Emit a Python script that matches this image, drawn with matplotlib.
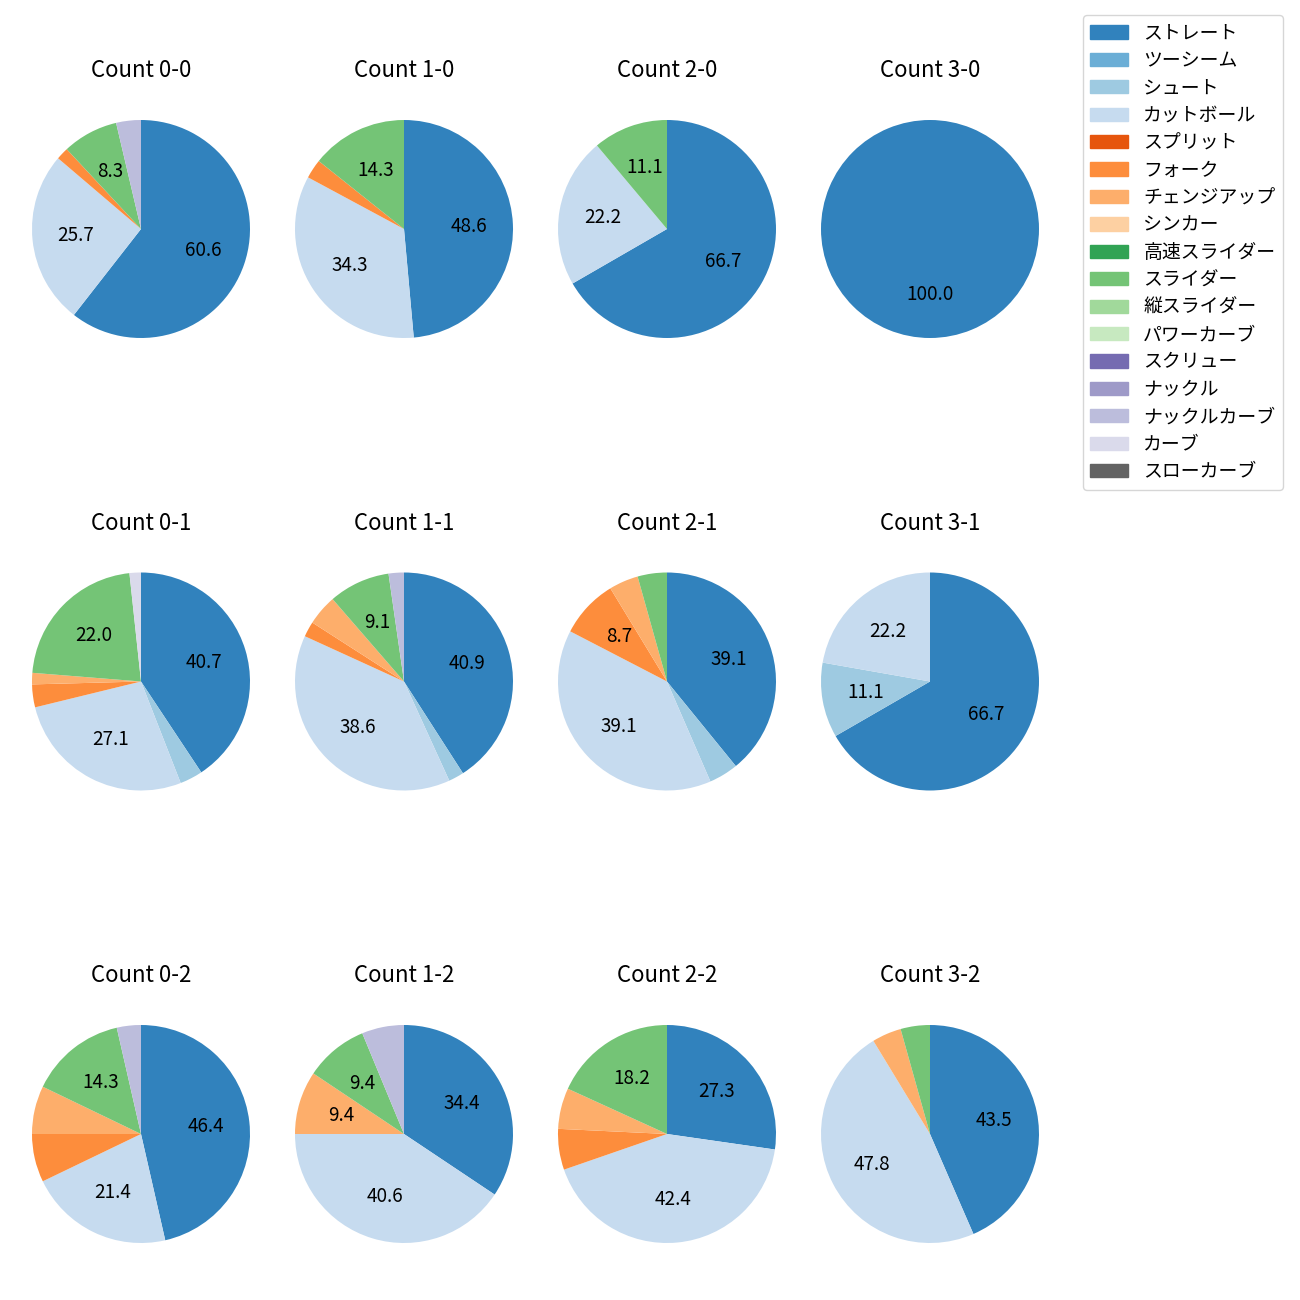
import matplotlib.pyplot as plt
from matplotlib.patches import Patch

plt.rcParams['font.family'] = ['Noto Sans CJK JP', 'DejaVu Sans']
plt.rcParams['font.size'] = 13.6

# pitch types and colours (tab20c order)
pitch_types = ["ストレート", "ツーシーム", "シュート", "カットボール", "スプリット", "フォーク",
               "チェンジアップ", "シンカー", "高速スライダー", "スライダー", "縦スライダー",
               "パワーカーブ", "スクリュー", "ナックル", "ナックルカーブ", "カーブ", "スローカーブ"]
pitch_colors = ["#3182bd", "#6baed6", "#9ecae1", "#c6dbef", "#e6550d", "#fd8d3c",
                "#fdae6b", "#fdd0a2", "#31a354", "#74c476", "#a1d99b",
                "#c7e9c0", "#756bb1", "#9e9ac8", "#bcbddc", "#dadaeb", "#636363"]

# pitch counts per ball-strike count, in pitch_types order
counts = {
    "0-0": [66, 0, 0, 28, 0, 2, 0, 0, 0, 9, 0, 0, 0, 0, 4, 0, 0],
    "1-0": [17, 0, 0, 12, 0, 1, 0, 0, 0, 5, 0, 0, 0, 0, 0, 0, 0],
    "2-0": [6, 0, 0, 2, 0, 0, 0, 0, 0, 1, 0, 0, 0, 0, 0, 0, 0],
    "3-0": [5, 0, 0, 0, 0, 0, 0, 0, 0, 0, 0, 0, 0, 0, 0, 0, 0],
    "0-1": [24, 0, 2, 16, 0, 2, 1, 0, 0, 13, 0, 0, 0, 0, 0, 1, 0],
    "1-1": [18, 0, 1, 17, 0, 1, 2, 0, 0, 4, 0, 0, 0, 0, 1, 0, 0],
    "2-1": [9, 0, 1, 9, 0, 2, 1, 0, 0, 1, 0, 0, 0, 0, 0, 0, 0],
    "3-1": [6, 0, 1, 2, 0, 0, 0, 0, 0, 0, 0, 0, 0, 0, 0, 0, 0],
    "0-2": [13, 0, 0, 6, 0, 2, 2, 0, 0, 4, 0, 0, 0, 0, 1, 0, 0],
    "1-2": [11, 0, 0, 13, 0, 0, 3, 0, 0, 3, 0, 0, 0, 0, 2, 0, 0],
    "2-2": [9, 0, 0, 14, 0, 2, 2, 0, 0, 6, 0, 0, 0, 0, 0, 0, 0],
    "3-2": [10, 0, 0, 11, 0, 0, 1, 0, 0, 1, 0, 0, 0, 0, 0, 0, 0],
}
balls = ["0", "1", "2", "3"]
strikes = ["0", "1", "2"]


def pct_label(p):
    return f"{p:.1f}" if p >= 8 else ""


W = H = 1300
box = 272.5  # axes box size in px
fig, axes = plt.subplots(3, 4, figsize=(13, 13))
for i, s in enumerate(strikes):
    for j, b in enumerate(balls):
        ax = axes[i, j]
        cx = 141 + 263 * j
        cy = 229 + 452.5 * i
        ax.set_position([(cx - box / 2) / W, 1 - (cy + box / 2) / H, box / W, box / H])
        vals = counts[f"{b}-{s}"]
        keep = [k for k, v in enumerate(vals) if v > 0]
        ax.pie([vals[k] for k in keep], colors=[pitch_colors[k] for k in keep],
               startangle=90, counterclock=False, autopct=pct_label)
        ax.set_title(f"Count {b}-{s}", fontsize=16, pad=11)

handles = [Patch(color=c, label=t) for t, c in zip(pitch_types, pitch_colors)]
fig.legend(handles=handles, loc="upper right", bbox_to_anchor=(1283 / W, 1 - 15 / H),
           borderaxespad=0, labelspacing=0.34)
plt.savefig("out.png", dpi=100)
